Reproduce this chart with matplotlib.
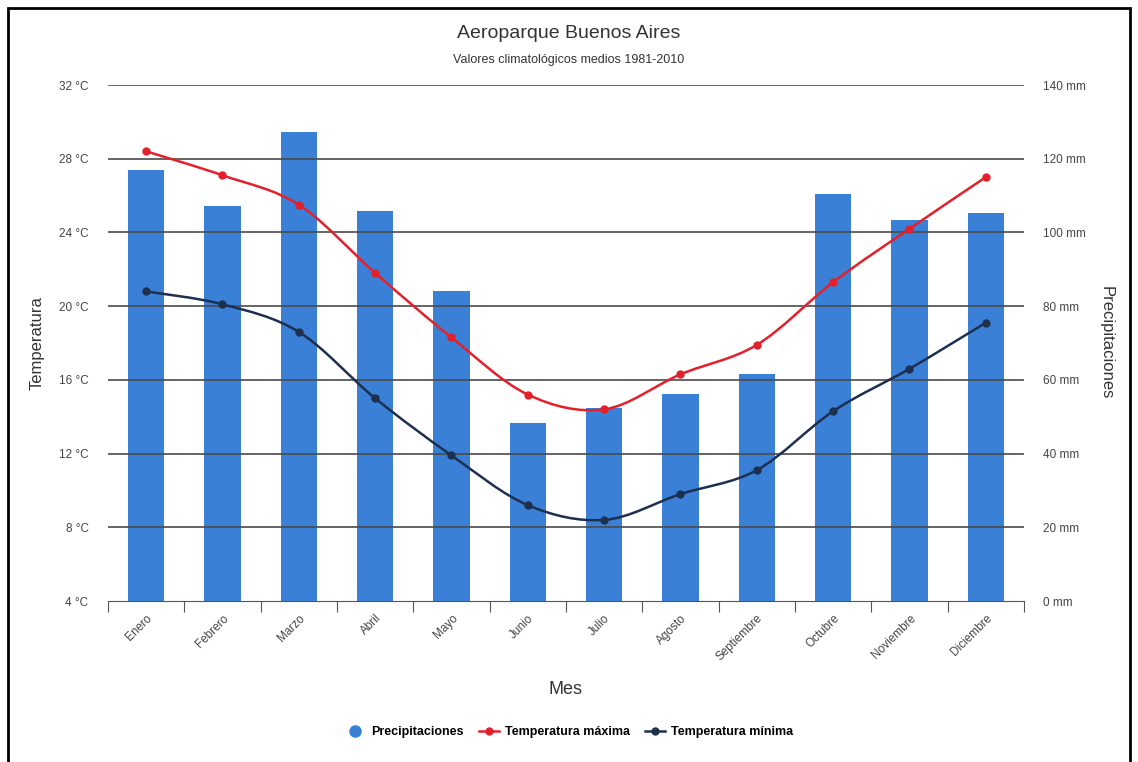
import matplotlib.pyplot as plt
import numpy as np
from matplotlib.path import Path
from matplotlib.patches import PathPatch, Rectangle
from matplotlib.lines import Line2D

plt.rcParams['font.family'] = ['Liberation Sans', 'DejaVu Sans']

meses = ['Enero', 'Febrero', 'Marzo', 'Abril', 'Mayo', 'Junio', 'Julio',
         'Agosto', 'Septiembre', 'Octubre', 'Noviembre', 'Diciembre']
precip = [116.9, 107.2, 127.2, 105.8, 84.1, 48.3, 52.4, 56.2, 61.6, 110.4, 103.4, 105.3]
t_max = [28.4, 27.1, 25.5, 21.8, 18.3, 15.2, 14.4, 16.3, 17.9, 21.3, 24.2, 27.0]
t_min = [20.8, 20.1, 18.6, 15.0, 11.9, 9.2, 8.4, 9.8, 11.1, 14.3, 16.6, 19.1]
t_ticks = [4, 8, 12, 16, 20, 24, 28, 32]
p_ticks = [0, 20, 40, 60, 80, 100, 120, 140]

c_bar = '#3a80d6'
c_max = '#e3202b'
c_min = '#1d3050'
c_txt = '#444444'


def curva(ax, x, y, color):
    # curva suave (Catmull-Rom -> Bezier cubica) que pasa por los puntos
    x = np.asarray(x, float)
    y = np.asarray(y, float)
    verts = [(x[0], y[0])]
    codes = [Path.MOVETO]
    n = len(x)
    for i in range(n - 1):
        p0 = (x[max(i - 1, 0)], y[max(i - 1, 0)])
        p1 = (x[i], y[i])
        p2 = (x[i + 1], y[i + 1])
        p3 = (x[min(i + 2, n - 1)], y[min(i + 2, n - 1)])
        c1 = (p1[0] + (p2[0] - p0[0]) / 6, p1[1] + (p2[1] - p0[1]) / 6)
        c2 = (p2[0] - (p3[0] - p1[0]) / 6, p2[1] - (p3[1] - p1[1]) / 6)
        verts += [c1, c2, p2]
        codes += [Path.CURVE4] * 3
    ax.add_patch(PathPatch(Path(verts, codes), fill=False, edgecolor=color,
                           lw=1.8, zorder=4))
    ax.plot(x, y, 'o', color=color, ms=5, zorder=5)


fig = plt.figure(figsize=(11.38, 7.62), dpi=100)
ax_t = fig.add_axes([108 / 1138, 1 - 601 / 762, 916 / 1138, 516 / 762])
ax_p = ax_t.twinx()

x = np.arange(len(meses))
ax_p.bar(x, precip, width=0.48, color=c_bar, zorder=2)
ax_p.set_ylim(0, 140)
ax_p.set_yticks(p_ticks)
ax_p.set_yticklabels([f'{v} mm' for v in p_ticks])

ax_t.set_ylim(4, 32)
ax_t.set_yticks(t_ticks)
ax_t.set_yticklabels([f'{v} °C' for v in t_ticks])
ax_t.set_xlim(-0.5, len(meses) - 0.5)

# grilla horizontal por delante de las barras
for v in t_ticks[1:]:
    ax_p.axhline((v - 4) * 5, color='#4a4a4a', lw=1.2, zorder=3)

ax_t.set_zorder(ax_p.get_zorder() + 1)
ax_t.patch.set_visible(False)
curva(ax_t, x, t_max, c_max)
curva(ax_t, x, t_min, c_min)

for a in (ax_t, ax_p):
    for s in a.spines.values():
        s.set_visible(False)
    a.tick_params(axis='y', length=0, labelsize=8.5, labelcolor=c_txt, pad=14)

ax_t.spines['bottom'].set_visible(True)
ax_t.spines['bottom'].set_color('#555555')
ax_t.set_xticks(np.arange(-0.5, len(meses), 1.0), minor=False)
ax_t.set_xticklabels([])
ax_t.tick_params(axis='x', which='major', length=8, color='#555555', direction='out')
ax_t.set_xticks(x, minor=True)
ax_t.set_xticklabels(meses, minor=True, rotation=45, ha='right',
                     rotation_mode='anchor', fontsize=8.5, color=c_txt)
ax_t.tick_params(axis='x', which='minor', length=0, pad=8)

ax_t.set_ylabel('Temperatura', fontsize=12, color='#333333', labelpad=10)
ax_p.set_ylabel('Precipitaciones', fontsize=12, color='#333333', rotation=270,
                labelpad=20)
ax_t.set_xlabel('Mes', fontsize=13, color='#333333')
ax_t.xaxis.set_label_coords(0.5, -89 / 516)
ax_t.xaxis.label.set_va('center')

fig.text(0.5, 1 - 33 / 762, 'Aeroparque Buenos Aires', ha='center', va='center',
         fontsize=14, color='#333333')
fig.text(0.5, 1 - 60 / 762, 'Valores climatológicos medios 1981-2010', ha='center',
         va='center', fontsize=9, color='#333333')

handles = [
    Line2D([], [], ls='none', marker='o', ms=8, color=c_bar),
    Line2D([], [], color=c_max, lw=1.8, marker='o', ms=5),
    Line2D([], [], color=c_min, lw=1.8, marker='o', ms=5),
]
fig.legend(handles, ['Precipitaciones', 'Temperatura máxima', 'Temperatura mínima'],
           loc='center', bbox_to_anchor=(0.5, 1 - 732 / 762), ncol=3, frameon=False,
           prop={'weight': 'bold', 'size': 9}, handlelength=1.6, handletextpad=0.5,
           columnspacing=1.2)

fig.patches.append(Rectangle((8 / 1138, -0.01), 1122 / 1138, 1.01 - 8 / 762,
                             transform=fig.transFigure, fill=False,
                             edgecolor='black', lw=2))

fig.savefig('out.png', dpi=100)
